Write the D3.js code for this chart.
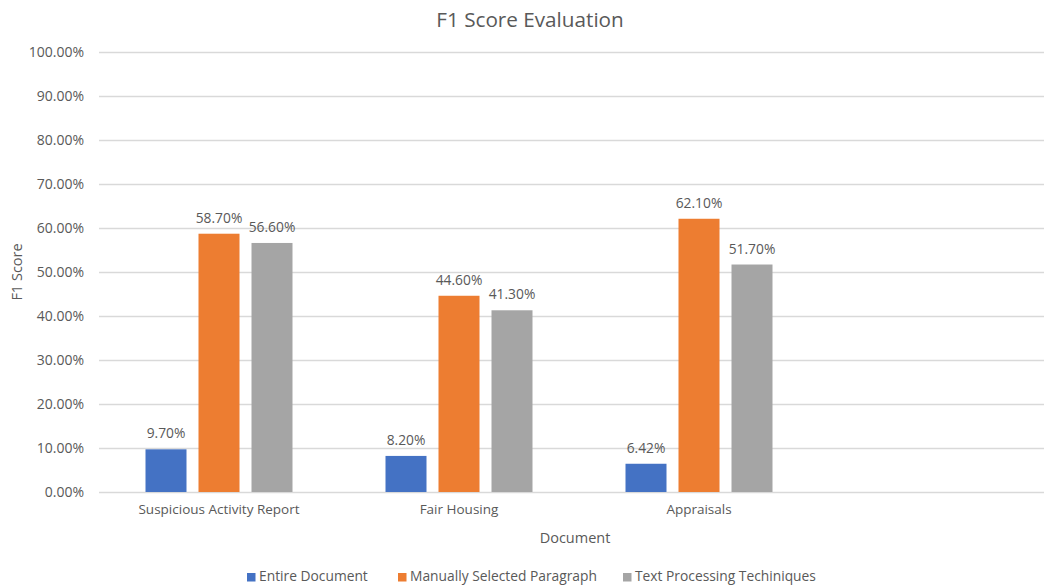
<!DOCTYPE html>
<html>
<head>
<meta charset="utf-8">
<script src="https://cdn.jsdelivr.net/npm/d3@7"></script>
<style>
  html, body { margin: 0; padding: 0; background: #fff; }
  svg { display: block; font-family: "Open Sans", sans-serif; }
</style>
</head>
<body>
<svg id="chart" width="1044" height="586"></svg>
<script>
const categories = ["Suspicious Activity Report", "Fair Housing", "Appraisals", ""];
const seriesNames = ["Entire Document", "Manually Selected Paragraph", "Text Processing Techiniques"];
const entireDocument = [0.097, 0.082, 0.0642, null];
const manualParagraph = [0.587, 0.446, 0.621, null];
const textProcessing = [0.566, 0.413, 0.517, null];
const seriesValues = [entireDocument, manualParagraph, textProcessing];
const seriesColors = ["#4472C4", "#ED7D31", "#A5A5A5"];
const yTicks = [0, 0.1, 0.2, 0.3, 0.4, 0.5, 0.6, 0.7, 0.8, 0.9, 1.0];

const svg = d3.select("#chart");
const textColor = "#595959";
const plot = { left: 99, right: 1059, top: 52, bottom: 492 };

const x0 = d3.scaleBand().domain(categories).range([plot.left, plot.right]).padding(0);
const groupW = 147;
const x1 = d3.scaleBand().domain(seriesNames).range([-groupW / 2, groupW / 2]).paddingInner(12 / 53).paddingOuter(0);
const y = d3.scaleLinear().domain([0, 1]).range([plot.bottom, plot.top]);

// gridlines
const yAxis = d3.axisLeft(y).tickValues(yTicks)
  .tickSize(-(plot.right - plot.left))
  .tickFormat(d => (d * 100).toFixed(2) + "%")
  .tickPadding(15);
const gy = svg.append("g").attr("transform", `translate(${plot.left},0)`).call(yAxis);
gy.select(".domain").remove();
gy.selectAll(".tick line").attr("stroke", "#D9D9D9").attr("stroke-width", 1.3);
gy.selectAll(".tick text").attr("fill", textColor).style("font-size", "14px")
  .style("font-family", "'Open Sans', sans-serif");

// bars
const groups = svg.append("g").selectAll("g")
  .data(seriesNames.map((name, i) => ({ name, i })))
  .join("g").attr("fill", d => seriesColors[d.i]);

groups.selectAll("rect")
  .data(d => categories.map((c, k) => ({ c, v: seriesValues[d.i][k], name: d.name })).filter(e => e.v != null))
  .join("rect")
  .attr("x", d => x0(d.c) + x0.bandwidth() / 2 + x1(d.name))
  .attr("width", x1.bandwidth())
  .attr("y", d => y(d.v))
  .attr("height", d => y(0) - y(d.v));

// labels
const labelG = svg.append("g");
seriesNames.forEach((name, i) => {
  categories.forEach((c, k) => {
    const v = seriesValues[i][k];
    if (v == null) return;
    labelG.append("text")
      .attr("x", x0(c) + x0.bandwidth() / 2 + x1(name) + x1.bandwidth() / 2)
      .attr("y", y(v) - 11)
      .attr("text-anchor", "middle")
      .attr("fill", textColor)
      .style("font-size", "13.8px")
      .text((v * 100).toFixed(2) + "%");
  });
});

// x axis labels
const xAxis = d3.axisBottom(x0).tickSize(0).tickPadding(12);
const gx = svg.append("g").attr("transform", `translate(0,${plot.bottom})`).call(xAxis);
gx.select(".domain").remove();
gx.selectAll(".tick text").attr("fill", textColor).style("font-size", "13.5px")
  .style("font-family", "'Open Sans', sans-serif");

// titles
svg.append("text").attr("x", 530).attr("y", 27).attr("text-anchor", "middle")
  .attr("fill", textColor).style("font-size", "20.7px").text("F1 Score Evaluation");
svg.append("text").attr("x", 575).attr("y", 543).attr("text-anchor", "middle")
  .attr("fill", textColor).style("font-size", "14.5px").text("Document");
svg.append("text").attr("transform", `translate(22,${(plot.top + plot.bottom) / 2}) rotate(-90)`)
  .attr("text-anchor", "middle").attr("fill", textColor).style("font-size", "14.5px").text("F1 Score");

// legend
const legend = svg.append("g");
const legendX = [247, 398, 623];
seriesNames.forEach((name, i) => {
  const g = legend.append("g").attr("transform", `translate(${legendX[i]},573)`);
  g.append("rect").attr("width", 8.5).attr("height", 8.5).attr("fill", seriesColors[i]);
  g.append("text").attr("x", 12).attr("y", 8.3).attr("fill", textColor).style("font-size", "13.8px").text(name);
});
</script>
</body>
</html>
